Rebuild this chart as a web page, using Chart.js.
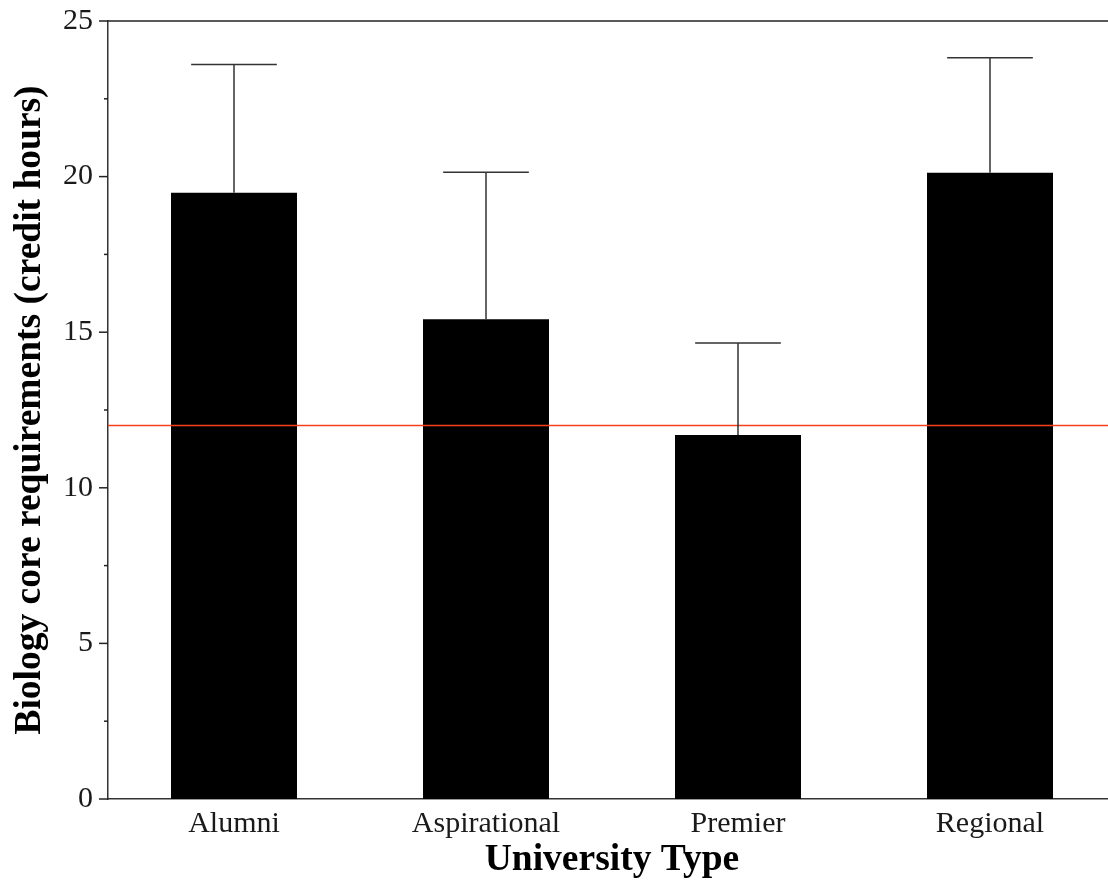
<!DOCTYPE html>
<html>
<head>
<meta charset="utf-8">
<script src="https://cdn.jsdelivr.net/npm/chart.js@4/dist/chart.umd.min.js"></script>
<style>
  html, body { margin: 0; padding: 0; background: #fff; overflow: hidden; }
  #wrap { width: 1116px; height: 880px; }
</style>
</head>
<body>
<div id="wrap"><canvas id="bioChart" width="1116" height="880"></canvas></div>
<script>
// values
const universityTypes = ['Alumni', 'Aspirational', 'Premier', 'Regional'];
const coreHours = [19.48, 15.42, 11.70, 20.12];
const coreHoursSD = [4.12, 4.72, 2.95, 3.70];
const referenceHours = 12;
const yTicks = [0, 5, 10, 15, 20, 25];

const serif = '"Liberation Serif", "Times New Roman", serif';

// upper error bars, reference line, top frame and tick marks
const extras = {
    id: 'extras',
    afterDatasetsDraw(chart) {
        const ctx = chart.ctx;
        const y = chart.scales.y;
        const area = chart.chartArea;
        const meta = chart.getDatasetMeta(0);

        ctx.save();
        // reference line
        const yr = y.getPixelForValue(referenceHours);
        ctx.strokeStyle = '#f5401e';
        ctx.lineWidth = 1.5;
        ctx.beginPath();
        ctx.moveTo(area.left, yr);
        ctx.lineTo(area.right, yr);
        ctx.stroke();

        // error bars
        ctx.strokeStyle = '#333';
        ctx.lineWidth = 1.5;
        meta.data.forEach((bar, i) => {
            const yTop = y.getPixelForValue(coreHours[i] + coreHoursSD[i]);
            const capHalf = bar.width * 0.34;
            ctx.beginPath();
            ctx.moveTo(bar.x, bar.y);
            ctx.lineTo(bar.x, yTop);
            ctx.moveTo(bar.x - capHalf, yTop);
            ctx.lineTo(bar.x + capHalf, yTop);
            ctx.stroke();
        });

        // top frame line
        ctx.strokeStyle = '#222';
        ctx.beginPath();
        ctx.moveTo(area.left, area.top);
        ctx.lineTo(area.right, area.top);
        ctx.stroke();

        // y tick marks, major and minor
        for (let v = 0; v <= 25; v += 2.5) {
            const py = y.getPixelForValue(v);
            const len = v % 5 === 0 ? 9 : 4;
            ctx.beginPath();
            ctx.moveTo(area.left - len, py);
            ctx.lineTo(area.left, py);
            ctx.stroke();
        }
        ctx.restore();
    }
};

new Chart(document.getElementById('bioChart'), {
    type: 'bar',
    data: {
        labels: universityTypes,
        datasets: [{
            data: coreHours,
            backgroundColor: '#000',
            borderWidth: 0,
            categoryPercentage: 1,
            barPercentage: 0.5
        }]
    },
    options: {
        responsive: false,
        animation: false,
        layout: { padding: { top: 21, right: 0, left: 0, bottom: 0 } },
        plugins: {
            legend: { display: false },
            tooltip: { enabled: false }
        },
        scales: {
            x: {
                grid: { display: false, drawTicks: false },
                border: { color: '#333', width: 1.5 },
                ticks: {
                    color: '#1a1a1a',
                    padding: 7,
                    font: { family: serif, size: 30 }
                },
                title: {
                    display: true,
                    text: 'University Type',
                    color: '#000',
                    padding: { top: 0, bottom: -3 },
                    font: { family: serif, size: 37.5, weight: 'bold' }
                },
                afterFit(scale) {
                    scale.height = 81;
                    scale.paddingLeft = 0;
                    scale.paddingRight = 0;
                }
            },
            y: {
                min: 0,
                max: 25,
                afterBuildTicks(scale) {
                    scale.ticks = yTicks.map(v => ({ value: v }));
                },
                grid: { display: false, drawTicks: false },
                border: { color: '#333', width: 1.5 },
                ticks: {
                    color: '#1a1a1a',
                    padding: 15,
                    font: { family: serif, size: 30 }
                },
                title: {
                    display: true,
                    text: 'Biology core requirements (credit hours)',
                    color: '#000',
                    padding: { top: 8, bottom: 0 },
                    font: { family: serif, size: 37.5, weight: 'bold' }
                },
                afterFit(scale) {
                    scale.width = 108;
                    scale.paddingTop = 0;
                    scale.paddingBottom = 0;
                }
            }
        }
    },
    plugins: [extras]
});
</script>
</body>
</html>
